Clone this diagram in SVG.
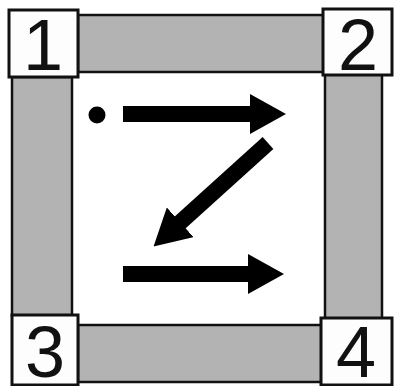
<svg xmlns="http://www.w3.org/2000/svg" width="395" height="386" viewBox="0 0 395 386">
<style>
.bar{fill:#b3b3b3;stroke:#111;stroke-width:2.5}
.box{fill:#fdfdfd;stroke:#111;stroke-width:3}
.num{font-family:"Liberation Sans",Arial,sans-serif;font-size:72px;fill:#111;text-anchor:middle}
.arr{stroke:#000;stroke-width:16;fill:none}
</style>
<defs>
<marker id="head" viewBox="0 0 36 40" refX="1" refY="20" markerWidth="36" markerHeight="40" markerUnits="userSpaceOnUse" orient="auto">
<path d="M0,0 L36,20 L0,40 Z" fill="#000"/>
</marker>
</defs>
<rect width="395" height="386" fill="#fff"/>
<g id="bar-top"><rect class="bar" x="78" y="15" width="246" height="57"/></g>
<g id="bar-right"><rect class="bar" x="325" y="74" width="57" height="245"/></g>
<g id="bar-bottom"><rect class="bar" x="78" y="325" width="244" height="57"/></g>
<g id="bar-left"><rect class="bar" x="12" y="77" width="60" height="239"/></g>
<g id="node1"><rect class="box" x="9" y="10" width="69" height="67"/><text class="num" x="43" y="70">1</text></g>
<g id="node2"><rect class="box" x="323" y="9" width="69" height="66"/><text class="num" x="358" y="70">2</text></g>
<g id="node3"><rect class="box" x="12" y="315" width="66" height="70"/><text class="num" x="45" y="377">3</text></g>
<g id="node4"><rect class="box" x="321" y="318" width="71" height="67"/><text class="num" x="356" y="377">4</text></g>
<g id="start"><circle cx="97" cy="115" r="8.5" fill="#000"/></g>
<g id="connectors">
<path class="arr" d="M123,114 L251,114" marker-end="url(#head)"/>
<path class="arr" d="M268,143 L179.5,223" marker-end="url(#head)"/>
<path class="arr" d="M123,274 L249,274" marker-end="url(#head)"/>
</g>
</svg>
